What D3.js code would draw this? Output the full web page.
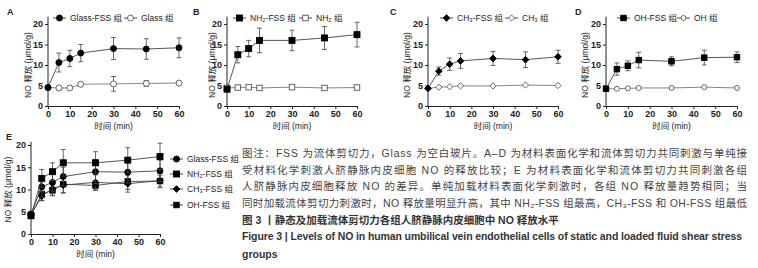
<!DOCTYPE html>
<html>
<head>
<meta charset="utf-8">
<script src="https://cdn.jsdelivr.net/npm/d3@7/dist/d3.min.js"></script>
<style>
body{margin:0;background:#fff;}
text{font-family:"Liberation Sans","Noto Sans CJK SC",sans-serif;}
</style>
</head>
<body>
<svg id="fig" width="758" height="268"></svg>
<script>
// data
var times = [0, 5, 10, 15, 30, 45, 60];
var xTicks = [0, 10, 20, 30, 40, 50, 60];
var yTicks = [0, 5, 10, 15, 20];

var glassFss    = [4.5, 10.6, 11.6, 12.9, 14.0, 13.9, 14.2];
var glassFssErr = [0.3, 2.3, 2.0, 2.1, 2.7, 2.5, 2.4];
var glass       = [4.5, 4.4, 4.4, 5.3, 5.4, 5.5, 5.6];
var glassErr    = [0.2, 0.2, 0.2, 0.3, 1.8, 0.7, 0.3];
var nh2Fss      = [4.1, 12.5, 14.0, 16.0, 16.0, 16.6, 17.4];
var nh2FssErr   = [0.4, 2.0, 2.0, 3.0, 2.5, 2.8, 3.0];
var nh2         = [4.4, 4.5, 4.6, 4.4, 4.6, 4.4, 4.5];
var nh2Err      = [0.2, 0.2, 0.2, 0.2, 0.2, 0.2, 0.2];
var ch3Fss      = [4.3, 8.5, 10.2, 11.0, 11.6, 11.3, 12.0];
var ch3FssErr   = [0.3, 1.0, 1.5, 1.8, 1.7, 1.9, 1.6];
var ch3         = [4.3, 4.6, 4.7, 4.9, 4.9, 5.1, 5.0];
var ch3Err      = [0.2, 0.2, 0.2, 0.2, 0.2, 0.2, 0.2];
var ohFss       = [4.2, 9.0, 9.8, 11.2, 10.9, 11.8, 11.9];
var ohFssErr    = [0.3, 1.5, 1.2, 1.9, 1.1, 1.8, 1.3];
var oh          = [4.2, 4.2, 4.3, 4.4, 4.4, 4.6, 4.4];
var ohErr       = [0.2, 0.2, 0.2, 0.2, 0.2, 0.2, 0.2];

var yLabel = "NO 释放 (μmol/g)";
var xLabel = "时间 (min)";

var captionLines = [
  "图注：FSS 为流体剪切力，Glass 为空白玻片。A–D 为材料表面化学和流体剪切力共同刺激与单纯接",
  "受材料化学刺激人脐静脉内皮细胞 NO 的释放比较；E 为材料表面化学和流体剪切力共同刺激各组",
  "人脐静脉内皮细胞释放 NO 的差异。单纯加载材料表面化学刺激时，各组 NO 释放量趋势相同；当",
  "同时加载流体剪切力刺激时，NO 释放量明显升高，其中 NH₂-FSS 组最高，CH₃-FSS 和 OH-FSS 组最低"
];
var captionTitle = "图 3 丨静态及加载流体剪切力各组人脐静脉内皮细胞中 NO 释放水平";
var captionEn = ["Figure 3  |  Levels of NO in human umbilical vein endothelial cells of static and loaded fluid shear stress", "groups"];

var svg = d3.select("#fig");

function marker(g, shape, filled, size){
  var fill = filled ? "#000" : "#fff";
  var stroke = filled ? "#000" : "#555";
  if(shape == "circle"){
    g.append("circle").attr("r", size/2).attr("fill", fill).attr("stroke", stroke).attr("stroke-width", 0.9);
  } else if(shape == "square"){
    g.append("rect").attr("x", -size/2).attr("y", -size/2).attr("width", size).attr("height", size)
      .attr("fill", fill).attr("stroke", stroke).attr("stroke-width", 0.9);
  } else if(shape == "diamond"){
    var s = size/2 + 0.6;
    g.append("path").attr("d", "M0," + (-s) + "L" + s + ",0L0," + s + "L" + (-s) + ",0Z")
      .attr("fill", fill).attr("stroke", stroke).attr("stroke-width", 0.9);
  }
}

function drawPanel(p){
  var x = d3.scaleLinear().domain([0, 60]).range([p.x0, p.x1]);
  var y = d3.scaleLinear().domain([0, 20]).range([p.y0, p.y1]);
  var g = svg.append("g");

  // axes
  var ya = g.append("g").attr("transform", "translate(" + p.x0 + ",0)")
    .call(d3.axisLeft(y).tickValues(yTicks).tickSize(3).tickPadding(2).tickSizeOuter(0));
  ya.select(".domain").attr("d", "M0," + y(0) + "V" + y(p.ytop));
  var xa = g.append("g").attr("transform", "translate(0," + p.y0 + ")")
    .call(d3.axisBottom(x).tickValues(xTicks).tickSize(3).tickPadding(2).tickSizeOuter(0));
  g.selectAll(".domain").attr("stroke", "#222").attr("stroke-width", 1);
  g.selectAll(".tick line").attr("stroke", "#222");
  g.selectAll(".tick text").attr("font-size", 9).attr("fill", "#222").attr("font-weight", "bold")
    .attr("font-family", "Liberation Sans, sans-serif");

  g.append("text").attr("transform", "translate(" + p.ylx + "," + ((p.y0 + p.y1) / 2) + ") rotate(-90)")
    .attr("text-anchor", "middle").attr("dy", "0.35em").attr("font-size", 8.5).attr("fill", "#222")
    .text(yLabel);
  g.append("text").attr("x", (p.x0 + p.x1) / 2).attr("y", p.y0 + 20)
    .attr("dy", "0.35em").attr("text-anchor", "middle").attr("font-size", 8.5).attr("fill", "#222")
    .text(xLabel);
  g.append("text").attr("x", p.lx).attr("y", p.ly).attr("font-size", 9).attr("font-weight", "bold")
    .attr("fill", "#222").text(p.letter);

  var line = d3.line().x(function(d){ return x(d.t); }).y(function(d){ return y(d.v); });

  p.series.forEach(function(s){
    var pts = times.map(function(t, i){ return {t: t, v: s.values[i], e: s.err[i]}; });
    var sg = g.append("g");
    pts.forEach(function(d){
      if(d.e < 0.35) return;
      var xx = x(d.t);
      sg.append("path").attr("d", "M" + xx + "," + y(d.v + d.e) + "V" + y(d.v - d.e)
        + "M" + (xx - 2.5) + "," + y(d.v + d.e) + "H" + (xx + 2.5)
        + "M" + (xx - 2.5) + "," + y(d.v - d.e) + "H" + (xx + 2.5))
        .attr("stroke", "#444").attr("stroke-width", 0.8).attr("fill", "none");
    });
    sg.append("path").datum(pts).attr("d", line).attr("fill", "none")
      .attr("stroke", s.filled ? "#444" : "#777").attr("stroke-width", 0.9);
    pts.forEach(function(d){
      var mg = sg.append("g").attr("transform", "translate(" + x(d.t) + "," + y(d.v) + ")");
      marker(mg, s.shape, s.filled, s.size);
    });
  });

  // legend
  p.legend.forEach(function(l){
    var lg = g.append("g");
    lg.append("line").attr("x1", l.x).attr("x2", l.x + 13).attr("y1", l.y).attr("y2", l.y)
      .attr("stroke", "#333").attr("stroke-width", 0.9);
    var mg = lg.append("g").attr("transform", "translate(" + (l.x + 6.5) + "," + l.y + ")");
    marker(mg, l.s.shape, l.s.filled, l.s.size);
    lg.append("text").attr("x", l.x + 17).attr("y", l.y).attr("dy", "0.35em")
      .attr("font-size", 8.5).attr("fill", "#222").text(l.s.name);
  });
}

var sGlassFss = {name: "Glass-FSS 组", values: glassFss, err: glassFssErr, shape: "circle", filled: true, size: 6};
var sGlass    = {name: "Glass 组", values: glass, err: glassErr, shape: "circle", filled: false, size: 6};
var sNh2Fss   = {name: "NH₂-FSS 组", values: nh2Fss, err: nh2FssErr, shape: "square", filled: true, size: 6};
var sNh2      = {name: "NH₂ 组", values: nh2, err: nh2Err, shape: "square", filled: false, size: 5.5};
var sCh3Fss   = {name: "CH₃-FSS 组", values: ch3Fss, err: ch3FssErr, shape: "diamond", filled: true, size: 5.5};
var sCh3      = {name: "CH₃ 组", values: ch3, err: ch3Err, shape: "diamond", filled: false, size: 5};
var sOhFss    = {name: "OH-FSS 组", values: ohFss, err: ohFssErr, shape: "square", filled: true, size: 5.5};
var sOh       = {name: "OH 组", values: oh, err: ohErr, shape: "circle", filled: false, size: 5};

var panels = [
  {letter: "A", x0: 48, x1: 179, y0: 106, y1: 24, ytop: 21.8, ylx: 28, lx: 7, ly: 15,
   series: [sGlass, sGlassFss], legend: [{x: 53, y: 18, s: sGlassFss}, {x: 124, y: 18, s: sGlass}]},
  {letter: "B", x0: 227, x1: 357, y0: 106, y1: 24, ytop: 21.8, ylx: 212, lx: 193, ly: 15,
   series: [sNh2, sNh2Fss], legend: [{x: 233, y: 18, s: sNh2Fss}, {x: 299, y: 18, s: sNh2}]},
  {letter: "C", x0: 428, x1: 558, y0: 106, y1: 24, ytop: 21.8, ylx: 407, lx: 390, ly: 15,
   series: [sCh3, sCh3Fss], legend: [{x: 440, y: 18, s: sCh3Fss}, {x: 505, y: 18, s: sCh3}]},
  {letter: "D", x0: 606, x1: 737, y0: 106, y1: 24, ytop: 21.8, ylx: 585, lx: 575, ly: 15,
   series: [sOh, sOhFss], legend: [{x: 617, y: 18, s: sOhFss}, {x: 677, y: 18, s: sOh}]},
  {letter: "E", x0: 31, x1: 160, y0: 234, y1: 145, ytop: 20.7, ylx: 8, lx: 6, ly: 140,
   series: [sOhFss, sCh3Fss, sGlassFss, sNh2Fss],
   legend: [{x: 170, y: 159, s: sGlassFss}, {x: 170, y: 174, s: sNh2Fss}, {x: 170, y: 189, s: sCh3Fss}, {x: 170, y: 205, s: sOhFss}]}
];
panels.forEach(drawPanel);

// caption
var cap = svg.append("g");
captionLines.forEach(function(t, i){
  cap.append("text").attr("x", 242).attr("y", 157 + i * 16.7).attr("font-size", 10.5)
    .attr("fill", "#444").attr("textLength", 505).attr("lengthAdjust", "spacing").text(t);
});
cap.append("text").attr("x", 242).attr("y", 157 + 4 * 16.7).attr("font-size", 10.5)
  .attr("fill", "#333").attr("font-weight", "bold").text(captionTitle);
cap.append("text").attr("x", 242).attr("y", 157 + 5 * 16.7 - 0.5).attr("font-size", 10.5)
  .attr("fill", "#333").attr("font-weight", "bold").attr("textLength", 500).attr("lengthAdjust", "spacing").text(captionEn[0]);
cap.append("text").attr("x", 242).attr("y", 157 + 6 * 16.7 + 1).attr("font-size", 10.5)
  .attr("fill", "#333").attr("font-weight", "bold").text(captionEn[1]);
</script>
</body>
</html>
